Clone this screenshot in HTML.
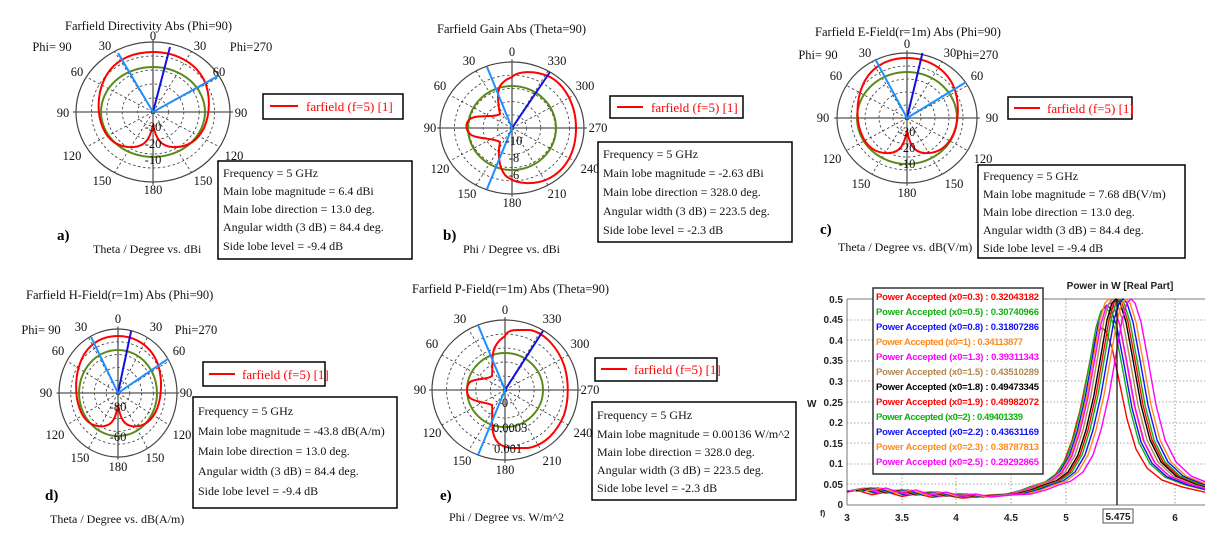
<!DOCTYPE html>
<html><head><meta charset="utf-8">
<style>
html,body{margin:0;padding:0;background:#fff;}
svg{display:block;}
.s{font-family:"Liberation Serif",serif;font-size:12.5px;fill:#111;}
.t{font-family:"Liberation Serif",serif;font-size:12px;fill:#111;}
.b{font-family:"Liberation Serif",serif;font-size:15px;font-weight:bold;fill:#000;}
.lg{font-family:"Liberation Serif",serif;font-size:13px;fill:#f00;}
.f{font-family:"Liberation Sans",sans-serif;font-size:9.5px;font-weight:bold;}
.ax{font-family:"Liberation Sans",sans-serif;font-size:10px;font-weight:bold;fill:#222;}
</style></head>
<body>
<svg width="1214" height="537" viewBox="0 0 1214 537" xmlns="http://www.w3.org/2000/svg">
<defs>
<g id="grid" fill="none">
  <g stroke="#333" stroke-width="0.8" stroke-dasharray="2.5,2.5" vector-effect="non-scaling-stroke">
    <circle r="80" vector-effect="non-scaling-stroke"/>
    <circle r="60" vector-effect="non-scaling-stroke"/>
    <circle r="40" vector-effect="non-scaling-stroke"/>
    <circle r="20" vector-effect="non-scaling-stroke"/>
    <path d="M0,0L50,86.6M0,0L-50,86.6M0,0L50,-86.6M0,0L-50,-86.6M0,0L86.6,50M0,0L-86.6,50M0,0L86.6,-50M0,0L-86.6,-50" vector-effect="non-scaling-stroke"/>
  </g>
  <circle r="100" stroke="#444" stroke-width="1.2" vector-effect="non-scaling-stroke"/>
  <path d="M-104,0H104M0,-104V104" stroke="#555" stroke-width="1.3" vector-effect="non-scaling-stroke"/>
</g>
<g id="patA" fill="none" stroke-linejoin="round">
  <path d="M153,125 C156,138 160,146 172,147 C188,148 198,140 204,128 C210,115 211,95 204,80 C195,62 175,52 153,52 C130,52 112,62 104,80 C97,95 97,115 103,128 C108,140 118,148 134,147 C146,146 150,138 153,125 Z" stroke="#f00" stroke-width="2" vector-effect="non-scaling-stroke"/>
  <line x1="153" y1="112" x2="170" y2="47" stroke="#1010e0" stroke-width="2" vector-effect="non-scaling-stroke"/>
  <path d="M118,53 L153,112 L218,76" stroke="#1e90ff" stroke-width="2" vector-effect="non-scaling-stroke"/>
</g>
<g id="pk">
  <path d="M-260,491 L-245,488 L-230,493 L-215,490 L-200,495 L-185,492 L-170,496 L-155,494 L-140,497 L-120,495 L-100,494 L-85,490 L-75,486 L-60,481 L-48,472 L-38,455 L-30,430 L-22,395 L-15,355 L-9,320 L-4,303 L0,299 L4,303 L10,322 L17,360 L25,405 L34,440 L45,462 L60,476 L80,484 L110,492" fill="none" stroke-width="1.4" stroke-linejoin="round" vector-effect="non-scaling-stroke"/>
</g>
<clipPath id="cf"><rect x="847" y="297" width="358" height="208"/></clipPath>
</defs>

<!-- ===== Panel a ===== -->
<text class="s" x="65" y="30">Farfield Directivity Abs (Phi=90)</text>
<use href="#grid" transform="translate(153,112) scale(0.77,0.70)"/>
<ellipse cx="153" cy="112" rx="52" ry="45" fill="none" stroke="#5a8a1a" stroke-width="2"/>
<use href="#patA"/>
<g class="s" text-anchor="middle">
<text x="52" y="51">Phi= 90</text><text x="105" y="50">30</text><text x="153" y="40">0</text><text x="200" y="50">30</text><text x="251" y="51">Phi=270</text>
<text x="77" y="76">60</text><text x="219" y="76">60</text>
<text x="63" y="117">90</text><text x="241" y="117">90</text>
<text x="72" y="160">120</text><text x="234" y="160">120</text>
<text x="102" y="185">150</text><text x="203" y="185">150</text><text x="153" y="194">180</text>
<text x="153" y="131">-30</text><text x="153" y="148">-20</text><text x="153" y="164">-10</text>
</g>
<rect x="263" y="94" width="140" height="25" fill="#fff" stroke="#000" stroke-width="1.5"/>
<line x1="270" y1="106" x2="298" y2="106" stroke="#f00" stroke-width="2"/>
<text class="lg" x="306" y="111">farfield (f=5) [1]</text>
<rect x="218" y="161" width="194" height="98" fill="#fff" stroke="#000" stroke-width="1.5"/>
<g class="t"><text x="223" y="177">Frequency = 5 GHz</text><text x="223" y="195">Main lobe magnitude =      6.4 dBi</text><text x="223" y="213">Main lobe direction =   13.0 deg.</text><text x="223" y="231">Angular width (3 dB) =   84.4 deg.</text><text x="223" y="250">Side lobe level =   -9.4 dB</text></g>
<text class="b" x="57" y="240">a)</text>
<text class="t" x="93" y="253">Theta / Degree vs. dBi</text>

<!-- ===== Panel b ===== -->
<text class="s" x="437" y="33">Farfield Gain Abs (Theta=90)</text>
<use href="#grid" transform="translate(512,128) scale(0.72,0.66)"/>
<ellipse cx="512" cy="128" rx="44" ry="42" fill="none" stroke="#5a8a1a" stroke-width="2"/>
<path d="M512,77 C518,71 535,70 550,77 C565,85 576,105 576,128 C576,152 566,170 548,179 C535,185 515,185 505,175 C498,166 498,152 500,142 C492,137 475,140 469,133 C465,128 466,122 470,119 C477,114 495,118 500,114 C498,104 497,92 500,86 C504,80 508,79 512,77 Z" fill="none" stroke="#f00" stroke-width="2"/>
<line x1="512" y1="128" x2="550" y2="72" stroke="#1010e0" stroke-width="2"/>
<path d="M487,67 L512,128 L487,189" fill="none" stroke="#1e90ff" stroke-width="2"/>
<g class="s" text-anchor="middle">
<text x="512" y="56">0</text><text x="469" y="65">30</text><text x="557" y="65">330</text>
<text x="440" y="90">60</text><text x="585" y="90">300</text>
<text x="430" y="132">90</text><text x="598" y="132">270</text>
<text x="440" y="173">120</text><text x="590" y="173">240</text>
<text x="467" y="198">150</text><text x="557" y="198">210</text><text x="512" y="207">180</text>
<text x="514" y="145">-10</text><text x="514" y="162">-8</text><text x="514" y="179">-6</text>
</g>
<rect x="610" y="96" width="133" height="22" fill="#fff" stroke="#000" stroke-width="1.5"/>
<line x1="617" y1="107" x2="643" y2="107" stroke="#f00" stroke-width="2"/>
<text class="lg" x="651" y="112">farfield (f=5) [1]</text>
<rect x="598" y="142" width="194" height="100" fill="#fff" stroke="#000" stroke-width="1.5"/>
<g class="t"><text x="603" y="158">Frequency = 5 GHz</text><text x="603" y="177">Main lobe magnitude =    -2.63 dBi</text><text x="603" y="196">Main lobe direction =  328.0 deg.</text><text x="603" y="215">Angular width (3 dB) =  223.5 deg.</text><text x="603" y="234">Side lobe level =   -2.3 dB</text></g>
<text class="b" x="443" y="240">b)</text>
<text class="t" x="463" y="253">Phi / Degree vs. dBi</text>

<!-- ===== Panel c ===== -->
<text class="s" x="815" y="36">Farfield E-Field(r=1m) Abs (Phi=90)</text>
<use href="#grid" transform="translate(907,118) scale(0.70,0.65)"/>
<ellipse cx="907" cy="118" rx="50" ry="46" fill="none" stroke="#5a8a1a" stroke-width="2"/>
<use href="#patA" transform="translate(907,118) scale(0.91,1) translate(-153,-112)"/>
<g class="s" text-anchor="middle">
<text x="818" y="59">Phi= 90</text><text x="865" y="57">30</text><text x="907" y="48">0</text><text x="950" y="57">30</text><text x="977" y="59">Phi=270</text>
<text x="836" y="80">60</text><text x="977" y="80">60</text>
<text x="823" y="122">90</text><text x="992" y="122">90</text>
<text x="832" y="163">120</text><text x="983" y="163">120</text>
<text x="861" y="188">150</text><text x="954" y="188">150</text><text x="907" y="197">180</text>
<text x="907" y="136">-30</text><text x="907" y="152">-20</text><text x="907" y="168">-10</text>
</g>
<rect x="1008" y="97" width="124" height="22" fill="#fff" stroke="#000" stroke-width="1.5"/>
<line x1="1014" y1="108" x2="1040" y2="108" stroke="#f00" stroke-width="2"/>
<text class="lg" x="1047" y="113">farfield (f=5) [1]</text>
<rect x="978" y="165" width="207" height="93" fill="#fff" stroke="#000" stroke-width="1.5"/>
<g class="t"><text x="983" y="180">Frequency = 5 GHz</text><text x="983" y="198">Main lobe magnitude =      7.68 dB(V/m)</text><text x="983" y="216">Main lobe direction =   13.0 deg.</text><text x="983" y="234">Angular width (3 dB) =   84.4 deg.</text><text x="983" y="252">Side lobe level =   -9.4 dB</text></g>
<text class="b" x="820" y="234">c)</text>
<text class="t" x="838" y="251">Theta / Degree vs. dB(V/m)</text>

<!-- ===== Panel d ===== -->
<text class="s" x="26" y="299">Farfield H-Field(r=1m) Abs (Phi=90)</text>
<use href="#grid" transform="translate(118,393) scale(0.59,0.64)"/>
<ellipse cx="118" cy="393" rx="39" ry="43" fill="none" stroke="#5a8a1a" stroke-width="2"/>
<use href="#patA" transform="translate(118,393) scale(0.77,0.95) translate(-153,-112)"/>
<g class="s" text-anchor="middle">
<text x="41" y="334">Phi= 90</text><text x="81" y="331">30</text><text x="118" y="323">0</text><text x="156" y="331">30</text><text x="196" y="334">Phi=270</text>
<text x="58" y="355">60</text><text x="179" y="355">60</text>
<text x="46" y="397">90</text><text x="186" y="397">90</text>
<text x="55" y="439">120</text><text x="182" y="439">120</text>
<text x="80" y="462">150</text><text x="155" y="462">150</text><text x="118" y="471">180</text>
<text x="118" y="411">-80</text><text x="118" y="441">-60</text>
</g>
<rect x="203" y="362" width="122" height="24" fill="#fff" stroke="#000" stroke-width="1.5"/>
<line x1="209" y1="374" x2="235" y2="374" stroke="#f00" stroke-width="2"/>
<text class="lg" x="242" y="379">farfield (f=5) [1]</text>
<rect x="193" y="397" width="204" height="111" fill="#fff" stroke="#000" stroke-width="1.5"/>
<g class="t"><text x="198" y="415">Frequency = 5 GHz</text><text x="198" y="435">Main lobe magnitude =    -43.8 dB(A/m)</text><text x="198" y="455">Main lobe direction =   13.0 deg.</text><text x="198" y="475">Angular width (3 dB) =   84.4 deg.</text><text x="198" y="495">Side lobe level =   -9.4 dB</text></g>
<text class="b" x="45" y="500">d)</text>
<text class="t" x="50" y="523">Theta / Degree vs. dB(A/m)</text>

<!-- ===== Panel e ===== -->
<text class="s" x="412" y="293">Farfield P-Field(r=1m) Abs (Theta=90)</text>
<use href="#grid" transform="translate(505,390) scale(0.73,0.70)"/>
<ellipse cx="505" cy="390" rx="38" ry="37" fill="none" stroke="#5a8a1a" stroke-width="2"/>
<path d="M505,336 C507,331 512,330 518,330 L530,330 C545,333 558,348 564,365 C569,380 569,400 564,415 C557,432 545,445 528,448 L512,448 C500,447 495,442 493,432 C491,422 493,412 492,405 C485,402 475,402 470,398 C466,394 466,386 470,382 C476,378 487,380 492,376 C493,368 491,355 495,347 C498,341 501,339 505,336 Z" fill="none" stroke="#f00" stroke-width="2"/>
<line x1="505" y1="390" x2="543" y2="331" stroke="#1010e0" stroke-width="2"/>
<path d="M478,325 L505,390 L478,455" fill="none" stroke="#1e90ff" stroke-width="2"/>
<g class="s" text-anchor="middle">
<text x="505" y="314">0</text><text x="460" y="323">30</text><text x="552" y="323">330</text>
<text x="432" y="348">60</text><text x="580" y="348">300</text>
<text x="420" y="394">90</text><text x="590" y="394">270</text>
<text x="432" y="437">120</text><text x="583" y="437">240</text>
<text x="462" y="465">150</text><text x="552" y="465">210</text><text x="505" y="474">180</text>
<text x="505" y="407">0</text><text x="510" y="432">0.0005</text><text x="508" y="453">0.001</text>
</g>
<rect x="595" y="358" width="122" height="23" fill="#fff" stroke="#000" stroke-width="1.5"/>
<line x1="601" y1="369" x2="627" y2="369" stroke="#f00" stroke-width="2"/>
<text class="lg" x="634" y="374">farfield (f=5) [1]</text>
<rect x="592" y="402" width="204" height="98" fill="#fff" stroke="#000" stroke-width="1.5"/>
<g class="t"><text x="597" y="419">Frequency = 5 GHz</text><text x="597" y="438">Main lobe magnitude =  0.00136 W/m^2</text><text x="597" y="456">Main lobe direction =  328.0 deg.</text><text x="597" y="474">Angular width (3 dB) =  223.5 deg.</text><text x="597" y="492">Side lobe level =   -2.3 dB</text></g>
<text class="b" x="440" y="500">e)</text>
<text class="t" x="449" y="521">Phi / Degree vs. W/m^2</text>

<!-- ===== Panel f ===== -->
<text class="ax" x="1120" y="289" text-anchor="middle">Power in W [Real Part]</text>
<g stroke="#888" stroke-width="0.8" stroke-dasharray="1.5,2">
<line x1="847" y1="484" x2="1205" y2="484"/><line x1="847" y1="464" x2="1205" y2="464"/><line x1="847" y1="443" x2="1205" y2="443"/><line x1="847" y1="423" x2="1205" y2="423"/><line x1="847" y1="402" x2="1205" y2="402"/><line x1="847" y1="381" x2="1205" y2="381"/><line x1="847" y1="361" x2="1205" y2="361"/><line x1="847" y1="340" x2="1205" y2="340"/><line x1="847" y1="320" x2="1205" y2="320"/>
<line x1="902" y1="299" x2="902" y2="505"/><line x1="956" y1="299" x2="956" y2="505"/><line x1="1011" y1="299" x2="1011" y2="505"/><line x1="1066" y1="299" x2="1066" y2="505"/><line x1="1175" y1="299" x2="1175" y2="505"/>
</g>
<line x1="847" y1="299" x2="1205" y2="299" stroke="#777" stroke-width="1"/>
<line x1="847" y1="299" x2="847" y2="505" stroke="#777" stroke-width="1"/>
<line x1="847" y1="505" x2="1205" y2="505" stroke="#777" stroke-width="1"/>
<g clip-path="url(#cf)">
<use href="#pk" stroke="#ff0000" transform="translate(1102,505) scale(1,0.86) translate(0,-505)"/>
<use href="#pk" stroke="#10b010" transform="translate(1105,505) scale(1,0.96) translate(0,-505)"/>
<use href="#pk" stroke="#1010ff" transform="translate(1107,505) scale(1,0.97) translate(0,-505)"/>
<use href="#pk" stroke="#ff8a1e" transform="translate(1109,0)"/>
<use href="#pk" stroke="#ff00ff" transform="translate(1110,505) scale(1,0.98) translate(0,-505)"/>
<use href="#pk" stroke="#b08850" transform="translate(1113,0)"/>
<use href="#pk" stroke="#000000" transform="translate(1116,0)"/>
<use href="#pk" stroke="#ff0000" transform="translate(1118,0)"/>
<use href="#pk" stroke="#10b010" transform="translate(1120,0)"/>
<use href="#pk" stroke="#1010ff" transform="translate(1123,0)"/>
<use href="#pk" stroke="#ff8a1e" transform="translate(1126,0)"/>
<use href="#pk" stroke="#ff00ff" transform="translate(1131,0)"/>
</g>
<line x1="1117" y1="299" x2="1117" y2="505" stroke="#000" stroke-width="1.2"/>
<g class="ax" text-anchor="end">
<text x="843" y="303">0.5</text><text x="843" y="323">0.45</text><text x="843" y="344">0.4</text><text x="843" y="364">0.35</text><text x="843" y="385">0.3</text><text x="843" y="406">0.25</text><text x="843" y="426">0.2</text><text x="843" y="447">0.15</text><text x="843" y="467">0.1</text><text x="843" y="488">0.05</text><text x="843" y="508">0</text>
</g>
<g class="ax" text-anchor="middle">
<text x="847" y="521">3</text><text x="902" y="521">3.5</text><text x="956" y="521">4</text><text x="1011" y="521">4.5</text><text x="1066" y="521">5</text><text x="1175" y="521">6</text>
</g>
<rect x="1103" y="509" width="30" height="14" fill="#fff" stroke="#555" stroke-width="1"/>
<text class="ax" x="1118" y="520" text-anchor="middle">5.475</text>
<text class="ax" x="807" y="407">W</text>
<text class="ax" x="820" y="516" style="font-size:8px">f)</text>
<rect x="873" y="288" width="170" height="186" fill="#fff" stroke="#333" stroke-width="1.5"/>
<g class="f">
<text x="876" y="300" fill="#ff0000" textLength="163">Power Accepted (x0=0.3) : 0.32043182</text>
<text x="876" y="315" fill="#10b010" textLength="163">Power Accepted (x0=0.5) : 0.30740966</text>
<text x="876" y="330" fill="#1010ff" textLength="163">Power Accepted (x0=0.8) : 0.31807286</text>
<text x="876" y="345" fill="#ff8a1e" textLength="147">Power Accepted (x0=1) : 0.34113877</text>
<text x="876" y="360" fill="#ff00ff" textLength="163">Power Accepted (x0=1.3) : 0.39311343</text>
<text x="876" y="375" fill="#b08850" textLength="163">Power Accepted (x0=1.5) : 0.43510289</text>
<text x="876" y="390" fill="#000000" textLength="163">Power Accepted (x0=1.8) : 0.49473345</text>
<text x="876" y="405" fill="#ff0000" textLength="163">Power Accepted (x0=1.9) : 0.49982072</text>
<text x="876" y="420" fill="#10b010" textLength="147">Power Accepted (x0=2) : 0.49401339</text>
<text x="876" y="435" fill="#1010ff" textLength="163">Power Accepted (x0=2.2) : 0.43631169</text>
<text x="876" y="450" fill="#ff8a1e" textLength="163">Power Accepted (x0=2.3) : 0.38787813</text>
<text x="876" y="465" fill="#ff00ff" textLength="163">Power Accepted (x0=2.5) : 0.29292865</text>
</g>
</svg>
</body></html>
